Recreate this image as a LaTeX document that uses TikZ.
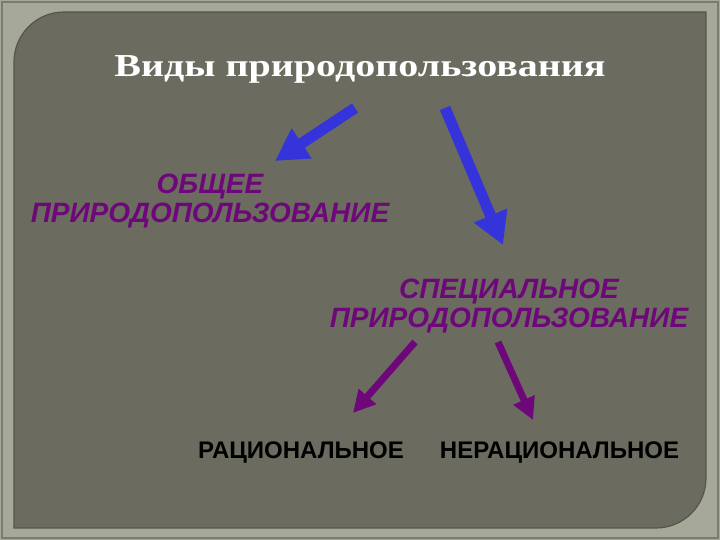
\documentclass[tikz,border=0pt]{standalone}
\usepackage{fontspec}
\setmainfont{Liberation Serif}
\setsansfont{Liberation Sans}
\newfontfamily\titlefont[FakeStretch=1.25]{Liberation Serif}
\usetikzlibrary{arrows.meta}

\definecolor{framelight}{RGB}{166,169,151}
\definecolor{frameedge}{RGB}{122,125,110}
\definecolor{panelfill}{RGB}{107,108,95}
\definecolor{paneledge}{RGB}{84,86,74}
\definecolor{arrowblue}{RGB}{52,52,218}
\definecolor{kindpurple}{RGB}{110,8,122}

\begin{document}
\begin{tikzpicture}[x=1bp, y=1bp,
		kind/.style={font=\sffamily\bfseries\itshape\fontsize{28bp}{29bp}\selectfont, text=kindpurple, align=center, inner sep=0pt},
		sort/.style={font=\sffamily\bfseries\fontsize{24bp}{26bp}\selectfont, text=black, inner sep=0pt, anchor=base},
		bluearrow/.style={draw=arrowblue, line width=11bp, -{Triangle[length=32bp, width=34bp]}},
		purplearrow/.style={draw=kindpurple, line width=7bp, -{Triangle[length=22bp, width=22bp]}}]
		
		% frame and panel
		\fill[framelight] (0,0) rectangle (720,540);
		\draw[frameedge, line width=1.5bp] (2,2) rectangle (718,538);
		\fill[panelfill, draw=paneledge, line width=1.2bp] (14,12) -- (14,478) arc[start angle=180, end angle=90, radius=50] -- (706,528) -- (706,62) arc[start angle=0, end angle=-90, radius=50] -- cycle;
		
		% title
		\node[anchor=base, text=white, font=\titlefont\bfseries\fontsize{32bp}{36bp}\selectfont] (title) at (360,463) {Виды природопользования};
		
		% the two kinds
		\node[kind] (general) at (210,339) {ОБЩЕЕ\\ПРИРОДОПОЛЬЗОВАНИЕ};
		\node[kind] (special) at (509,234) {СПЕЦИАЛЬНОЕ\\ПРИРОДОПОЛЬЗОВАНИЕ};
		
		% the two sorts of special use
		\node[sort] (rational) at (301,81) {РАЦИОНАЛЬНОЕ};
		\node[sort] (irrational) at (559.5,81) {НЕРАЦИОНАЛЬНОЕ};
		
		% arrow ends
		\coordinate (general-from) at (355,432);
		\coordinate (general-to) at (275,379);
		\coordinate (special-from) at (445,432);
		\coordinate (special-to) at (503,295);
		\coordinate (rational-from) at (415,198);
		\coordinate (rational-to) at (353,127);
		\coordinate (irrational-from) at (498,198);
		\coordinate (irrational-to) at (533,120);
		
		\draw[bluearrow] (general-from) -- (general-to);
		\draw[bluearrow] (special-from) -- (special-to);
		\draw[purplearrow] (rational-from) -- (rational-to);
		\draw[purplearrow] (irrational-from) -- (irrational-to);
	\end{tikzpicture}
\end{document}
